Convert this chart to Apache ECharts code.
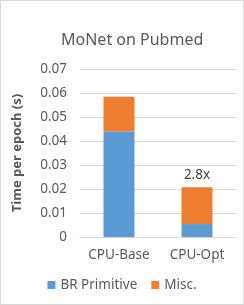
<!DOCTYPE html>
<html><head><meta charset="utf-8">
<script src="https://cdn.jsdelivr.net/npm/echarts@6/dist/echarts.min.js"></script>
<style>html,body{margin:0;padding:0;background:#fff}#c{width:244px;height:305px;box-sizing:border-box;border:1px solid #d9d9d9}</style>
</head><body><div id="c"></div>
<script>
var categories = ['CPU-Base', 'CPU-Opt'];
var brPrimitive = [0.0440, 0.0054];
var misc = [0.0144, 0.0153];
var speedupLabels = ['', '2.8x'];
var yTicks = [0, 0.01, 0.02, 0.03, 0.04, 0.05, 0.06, 0.07];

var chart = echarts.init(document.getElementById('c'), null, {renderer: 'canvas'});
var font = 'Noto Sans';
chart.setOption({
  animation: false,
  title: {text: 'MoNet on Pubmed', left: 55, top: 26,
    textStyle: {fontFamily: font, fontSize: 16, fontWeight: 'normal', color: '#595959'}},
  grid: {left: 79, right: 7, top: 68, bottom: 67},
  legend: {bottom: 7, left: 'center', itemWidth: 8, itemHeight: 8, itemGap: 14,
    icon: 'rect', textStyle: {fontFamily: font, fontSize: 13.5, color: '#595959'},
    data: ['BR Primitive', 'Misc.']},
  xAxis: {type: 'category', data: categories,
    axisLine: {lineStyle: {color: '#d9d9d9'}}, axisTick: {show: false},
    axisLabel: {interval: 0, hideOverlap: false, fontFamily: font, fontSize: 13.5, color: '#595959', margin: 11}},
  yAxis: {type: 'value', min: 0, max: 0.07, interval: 0.01,
    name: 'Time per epoch (s)', nameLocation: 'middle', nameGap: 56,
    nameTextStyle: {fontFamily: font, fontSize: 13, fontWeight: 'bold', color: '#595959'},
    axisLine: {show: false}, axisTick: {show: false},
    splitLine: {lineStyle: {color: '#d9d9d9'}},
    axisLabel: {fontFamily: font, fontSize: 13.5, color: '#595959', margin: 13,
      formatter: function (v) { var t = yTicks.find(function (x) { return Math.abs(x - v) < 1e-9; }); return t === 0 ? '0' : (t !== undefined ? t.toFixed(2) : ''); }}},
  series: [
    {name: 'BR Primitive', type: 'bar', stack: 's', data: brPrimitive, barWidth: 31,
      itemStyle: {color: '#5B9BD5'}},
    {name: 'Misc.', type: 'bar', stack: 's', data: misc, barWidth: 31,
      itemStyle: {color: '#ED7D31'},
      label: {show: true, position: 'top', distance: 5, fontFamily: font, fontSize: 13.5, color: '#404040',
        formatter: function (p) { return speedupLabels[p.dataIndex]; }}}
  ]
});
</script></body></html>
